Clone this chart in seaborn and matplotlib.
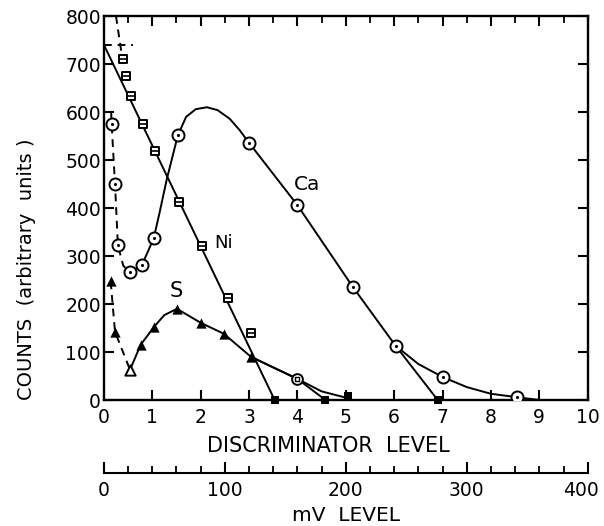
import numpy as np
import pandas as pd
import matplotlib
matplotlib.use("Agg")
import matplotlib.pyplot as plt
import matplotlib.transforms as mtransforms
import seaborn as sns

# ---------------------------------------------------------------
# values
# ---------------------------------------------------------------
# Ca : open circles with a dot
ca_x = [0.16, 0.23, 0.29, 0.54, 0.79, 1.03, 1.53, 3.0, 4.0, 5.15, 6.03, 7.0, 8.53]
ca_y = [575, 450, 322, 266, 282, 337, 552, 536, 406, 235, 113, 48, 6]
ca_dash_x = [0.15, 0.16, 0.23, 0.29, 0.40, 0.54]
ca_dash_y = [600, 575, 450, 322, 280, 266]
ca_line_x = [0.54, 0.79, 1.03, 1.15, 1.3, 1.53, 1.7, 1.9, 2.13, 2.35, 2.6, 2.8, 3.0,
             4.0, 5.15, 6.03, 6.5, 7.0, 7.5, 8.0, 8.53, 9.0]
ca_line_y = [266, 282, 337, 390, 460, 552, 590, 606, 610, 604, 586, 563, 536,
             406, 235, 113, 75, 48, 27, 13, 6, 0]
ca_branch_x = [6.03, 6.9]
ca_branch_y = [113, 0]

# Ni : open squares with a bar
ni_x = [0.39, 0.45, 0.56, 0.80, 1.05, 1.55, 2.02, 2.56, 3.04]
ni_y = [711, 676, 634, 575, 519, 412, 320, 213, 140]
ni_line_x = [0.0, 3.53]
ni_line_y = [740, 0]
ni_dash_x = [0.25, 0.38]
ni_dash_y = [800, 712]
ni_hdash_x = [0.0, 0.6]
ni_hdash_y = [740, 740]

# S : filled triangles
s_x = [0.14, 0.23, 0.76, 1.04, 1.51, 2.0, 2.48, 3.04]
s_y = [247, 142, 115, 153, 190, 161, 138, 90]
s_open_x = [0.54]
s_open_y = [63]
s_dash_x = [0.14, 0.23, 0.54]
s_dash_y = [247, 142, 63]
s_line_x = [0.54, 0.76, 1.04, 1.25, 1.51, 2.0, 2.48, 3.04, 4.0, 4.58]
s_line_y = [63, 115, 153, 177, 190, 161, 138, 90, 44, 0]
s_tail_x = [3.04, 4.0, 4.5, 5.0]
s_tail_y = [90, 44, 18, 5]
s_mid_x = [4.0]
s_mid_y = [44]

# end points (filled squares on the axis)
end_x = [3.53, 4.58, 5.04, 6.9]
end_y = [0, 0, 8, 0]

x_ticks = list(range(0, 11))
y_ticks = list(range(0, 801, 100))
mv_ticks = [0, 100, 200, 300, 400]

# ---------------------------------------------------------------
sns.set_style("white")
plt.rcParams["font.family"] = ["DejaVu Sans"]
plt.rcParams["text.color"] = "black"
plt.rcParams["axes.labelcolor"] = "black"
plt.rcParams["xtick.color"] = "black"
plt.rcParams["ytick.color"] = "black"

fig = plt.figure(figsize=(6.04, 5.26), dpi=100)
ax = fig.add_axes([0.172, 0.2395, 0.801, 0.730])

lw = 1.4
k = "black"


def line(x, y, dashed=False):
    sns.lineplot(x=x, y=y, ax=ax, color=k, lw=lw, sort=False, estimator=None,
                 linestyle=(0, (4, 3)) if dashed else "-")


line(ca_line_x, ca_line_y)
line(ca_branch_x, ca_branch_y)
line(ca_dash_x, ca_dash_y, dashed=True)
line(ni_line_x, ni_line_y)
line(ni_dash_x, ni_dash_y, dashed=True)
line(ni_hdash_x, ni_hdash_y, dashed=True)
line(s_line_x, s_line_y)
line(s_tail_x, s_tail_y)
line(s_dash_x, s_dash_y, dashed=True)

# markers
sns.scatterplot(x=ca_x, y=ca_y, ax=ax, marker="o", s=75, facecolor="white",
                edgecolor=k, linewidth=1.4, zorder=5)
sns.scatterplot(x=ca_x, y=ca_y, ax=ax, marker="o", s=5, color=k, linewidth=0, zorder=6)
sns.scatterplot(x=ni_x, y=ni_y, ax=ax, marker="s", s=36, facecolor="white",
                edgecolor=k, linewidth=1.4, zorder=5)
sns.scatterplot(x=ni_x, y=ni_y, ax=ax, marker="_", s=16, color=k, linewidth=1.2, zorder=6)
sns.scatterplot(x=s_x, y=s_y, ax=ax, marker="^", s=55, color=k, linewidth=0, zorder=5)
sns.scatterplot(x=s_open_x, y=s_open_y, ax=ax, marker="^", s=55, facecolor="white",
                edgecolor=k, linewidth=1.4, zorder=5)
sns.scatterplot(x=s_mid_x, y=s_mid_y, ax=ax, marker="o", s=60, facecolor="white",
                edgecolor=k, linewidth=1.4, zorder=5)
sns.scatterplot(x=s_mid_x, y=s_mid_y, ax=ax, marker="s", s=12, facecolor="white",
                edgecolor=k, linewidth=1.0, zorder=6)
sns.scatterplot(x=end_x, y=end_y, ax=ax, marker="s", s=26, color=k, linewidth=0,
                zorder=5, clip_on=False)

ax.text(4.2, 450, "Ca", fontsize=14.5, ha="center", va="center")
ax.text(2.48, 328, "Ni", fontsize=13, ha="center", va="center")
ax.text(1.49, 228, "S", fontsize=15, ha="center", va="center")

ax.set_xlim(0, 10)
ax.set_ylim(0, 800)
ax.set_xticks(x_ticks)
ax.set_yticks(y_ticks)
ax.set_xticks(np.arange(0, 10.01, 0.5), minor=True)
ax.tick_params(axis="both", which="major", direction="in", length=7, width=1.5,
               labelsize=13.5, pad=6, top=True, right=True, bottom=True, left=True)
ax.tick_params(axis="x", which="minor", direction="in", length=5, width=1.3,
               top=True, bottom=False)
ax.tick_params(axis="y", which="major", pad=2)
for sp in ax.spines.values():
    sp.set_linewidth(1.7)
    sp.set_color(k)
ax.set_xlabel("DISCRIMINATOR  LEVEL", fontsize=15)
ax.xaxis.set_label_coords(0.465, -0.093)
ax.set_ylabel("COUNTS  (arbitrary  units )", fontsize=14)
ax.yaxis.set_label_coords(-0.14, 0.34)

# second scale: mV level
ax2 = fig.add_axes([0.172, 0.1008, 0.801, 0.0001])
ax2.set_xlim(0, 400)
ax2.set_ylim(0, 1)
ax2.set_yticks([])
ax2.set_xticks(mv_ticks)
ax2.set_xticks(np.arange(0, 401, 20), minor=True)
for name, sp in ax2.spines.items():
    sp.set_visible(name == "bottom")
ax2.spines["bottom"].set_linewidth(1.5)
ax2.spines["bottom"].set_color(k)
ax2.tick_params(axis="x", which="major", direction="in", length=8, width=1.5,
                labelsize=13.5, pad=6, bottom=True)
ax2.tick_params(axis="x", which="minor", direction="in", length=5, width=1.3,
                bottom=True)
# last label sits against the right edge of the picture
last = ax2.get_xticklabels()[-1]
last.set_transform(last.get_transform() +
                   mtransforms.ScaledTranslation(-7 / 100, 0, fig.dpi_scale_trans))
ax2.set_xlabel("mV  LEVEL", fontsize=14.5, labelpad=4)
ax2.patch.set_alpha(0)

fig.savefig("out.png", dpi=100)
